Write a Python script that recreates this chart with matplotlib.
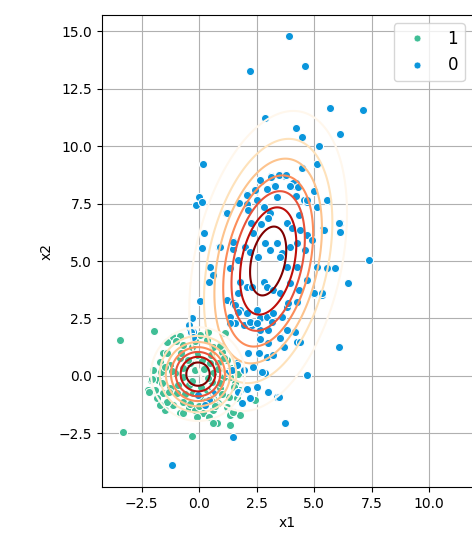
import numpy as np
import matplotlib
matplotlib.use("Agg")
import matplotlib.pyplot as plt
from matplotlib.lines import Line2D

# class 1 samples (x1, x2)
x1_c1 = [-1.96, -1.12, -0.83, -1.55, -1.38, -1.72, -1.67, -1.77, -2.10, -2.20,
         -1.55, -1.84, -1.12, -1.26, -0.97, -0.68, -0.46, -0.17, 0.19, 0.62,
         0.84, 1.20, 1.35, 1.28, 1.64, 1.78, 1.57, 1.35, 1.42, 1.20,
         0.99, 0.62, 0.33, 0.04, -0.32, -0.68, -1.26, -0.83, -1.04, -0.68,
         -0.46, 0.33, 0.55, 0.62, 0.48, 0.12, -0.39, -0.17, -0.68, 0.84,
         1.06, 0.91, 0.62, 0.04, -0.25, 2.43, 2.51, 1.35, 1.78, 0.77,
         0.41, -0.10, -0.83, -1.48, -1.41, -1.91, -1.99, -1.41, -3.43, -3.29,
         -0.32, 0.62, 1.49, 1.13, -2.17, -1.72, -2.06, 0.20, -0.30, 0.40,
         -0.50, 0.80, -0.90, 0.10, -0.10, 0.50, -0.60, 0.90, -1.20, 1.10,
         -0.80, 0.30, -0.40, 1.00, -1.30, 1.30, -0.20, 0.70, -1.50, 1.50,
         0.00, -1.00, 0.90, -1.60, 1.70, -0.70, 0.40]
x2_c1 = [1.97, 1.71, 1.74, 1.01, 0.99, 0.62, 0.19, -0.17, -0.17, -0.61,
         -0.75, -0.97, -1.26, -0.54, -0.75, -1.12, -1.41, -1.48, -1.62, -1.48,
         -1.19, -1.33, -1.70, -0.90, -0.97, -0.61, -0.32, -0.03, 0.33, 0.70,
         1.06, 1.28, 1.57, 1.78, 1.28, 1.35, 0.48, 0.77, 0.12, -0.03,
         -0.39, -0.61, -0.25, 0.12, 0.55, 0.70, 0.55, 0.26, 0.33, 0.55,
         -0.03, -0.54, -0.97, -0.97, -0.75, -1.04, -0.46, -2.13, -1.70, -2.06,
         -1.77, -1.77, -1.62, -1.48, -1.12, -0.61, 0.26, 1.49, 1.57, -2.42,
         -2.60, -2.03, -1.55, 1.88, -0.68, -1.26, -0.14, 0.30, -0.20, -0.10,
         0.70, 0.30, -0.40, -0.50, 0.90, 0.90, -0.80, -0.30, 0.20, 0.80,
         1.00, -1.10, -1.20, -0.80, -0.70, 0.20, 1.50, -1.30, 0.40, -0.50,
         -1.30, 1.50, 1.30, -0.30, 0.10, -1.60, 1.90]

# class 0 samples (x1, x2)
x1_c0 = [3.90, 2.23, 4.62, 5.67, 7.13, 2.88, 4.23, 4.49, 6.12, 5.23,
         0.17, 5.12, 4.49, 3.71, 3.12, 2.70, 4.19, 4.07, 3.27, 2.43,
         2.07, 4.97, 5.58, 0.00, -0.14, 0.12, 1.75, 2.07, 3.39, 4.57,
         4.68, 5.12, 7.36, 6.49, 5.91, 5.60, 5.33, 4.97, 6.13, 6.10,
         5.38, 1.17, 0.23, 0.12, 0.87, 1.46, 1.49, 0.48, 0.62, 0.41,
         0.04, 2.65, 3.12, 3.46, 3.78, 4.10, 4.28, 3.96, 3.30, 2.97,
         2.43, 2.07, 3.38, 2.51, 4.22, 4.68, 5.55, 1.20, 2.14, 2.80,
         3.09, 4.32, 6.06, 2.25, 2.68, 3.01, 3.81, 4.03, 4.39, 4.68,
         5.41, 6.13, 0.91, 1.49, 2.00, 2.36, 2.87, 3.09, 3.38, 3.59,
         3.96, 4.25, 4.61, 4.90, 1.35, 1.71, 2.22, 2.54, 3.52, 3.81,
         4.25, 5.12, 5.55, 5.91, 4.68, 3.96, 2.80, 2.07, 1.78, 1.20,
         1.49, 1.71, 2.29, 2.94, 3.23, 3.52, 4.32, 5.33, 4.25, 3.81,
         1.78, 2.07, 2.65, 2.94, 3.23, 2.51, -0.32, -0.39, 1.35, 1.57,
         2.29, 2.65, 3.01, 3.52, 3.81, 2.65, 3.67, 4.25, 6.06, 2.14,
         2.94, 4.68, 1.71, 2.51, 3.38, 1.93, 1.64, -1.19, 1.49, 3.74,
         3.45, 3.01, 1.86, 1.71, 2.07, 2.87, 2.36, 1.64, 3.23, 3.01,
         3.52, 4.17, 1.20, 1.42, 1.57, 1.71, 1.35, 1.93, 2.22, 2.51,
         3.16, 3.59, 3.88, 4.25, 4.97, -0.46, -0.25, -0.03, 0.41, 0.62,
         0.26, 2.22, 2.72, 2.58, -0.35, -0.28, 4.39]
x2_c0 = [14.78, 13.26, 13.49, 11.65, 11.55, 11.22, 10.77, 10.39, 10.53, 10.00,
         9.22, 9.22, 9.04, 8.71, 8.68, 8.49, 8.38, 8.27, 8.27, 8.04,
         7.90, 8.04, 7.61, 7.77, 7.43, 7.55, 7.51, 7.47, 7.77, 7.65,
         7.55, 7.36, 5.04, 4.03, 4.71, 4.71, 3.52, 3.55, 6.67, 6.27,
         6.39, 7.07, 6.23, 5.55, 5.60, 5.87, 5.51, 4.75, 4.39, 4.07,
         3.27, 8.52, 8.64, 8.72, 8.72, 8.41, 8.20, 8.26, 8.26, 8.14,
         8.09, 7.87, 7.80, 7.65, 7.84, 7.65, 7.65, 7.07, 7.22, 7.36,
         7.07, 7.00, 6.64, 6.64, 6.61, 6.86, 6.64, 6.42, 6.35, 6.13,
         6.35, 6.28, 5.62, 5.84, 5.62, 6.20, 5.77, 5.48, 5.77, 5.33,
         5.62, 5.77, 5.48, 5.91, 4.68, 5.04, 5.41, 5.19, 5.19, 4.75,
         4.75, 4.75, 4.68, 4.68, 4.17, 4.03, 4.10, 3.88, 4.10, 3.30,
         3.16, 3.59, 3.88, 3.88, 3.74, 3.59, 3.74, 3.59, 3.23, 3.01,
         2.87, 2.72, 2.51, 2.58, 2.72, 2.87, 2.51, 2.00, 2.58, 2.29,
         2.22, 2.00, 2.00, 1.71, 2.00, 1.59, 1.28, 1.49, 1.28, 0.99,
         0.84, 0.04, -0.68, -0.46, -0.90, 0.26, 0.55, -3.87, -2.64, -2.03,
         -0.93, -0.68, -1.19, -0.68, -0.58, 0.12, 0.41, 0.48, 0.91, 1.42,
         1.64, 1.93, 0.12, 0.26, 3.09, 2.80, 2.29, 2.22, 2.36, 2.29,
         2.36, 2.58, 3.16, 3.23, 3.59, 2.22, 1.93, -0.83, -1.04, -0.75,
         -1.26, -0.97, 0.19, 0.99, 1.93, 1.71, 1.49]

# fitted gaussian parameters per class
mean_c1 = [-0.05, 0.08]
cov_c1 = [[1.0, 0.0], [0.0, 1.0]]
mean_c0 = [3.0, 5.0]
sd_c0 = [1.69, 3.22]
rho_c0 = 0.32
cov_c0 = [[sd_c0[0] ** 2, rho_c0 * sd_c0[0] * sd_c0[1]],
          [rho_c0 * sd_c0[0] * sd_c0[1], sd_c0[1] ** 2]]
# contour levels as multiples of peak density / n
level_div = {1: 7.96, 0: 7.8}

col_c1 = "#40be96"
col_c0 = "#0a96dc"


def gauss_pdf(X, Y, mu, cov):
    cov = np.asarray(cov)
    inv = np.linalg.inv(cov)
    dx = X - mu[0]
    dy = Y - mu[1]
    q = inv[0, 0] * dx * dx + 2 * inv[0, 1] * dx * dy + inv[1, 1] * dy * dy
    return np.exp(-0.5 * q) / (2 * np.pi * np.sqrt(np.linalg.det(cov)))


fig = plt.figure(figsize=(4.72, 5.40), dpi=100)
ax = fig.add_axes([102 / 472, 53 / 540, 371 / 472, 472 / 540])

ax.scatter(x1_c1, x2_c1, s=34, c=col_c1, edgecolors="white", linewidths=0.75, zorder=2)
ax.scatter(x1_c0, x2_c0, s=34, c=col_c0, edgecolors="white", linewidths=0.75, zorder=2)

xx = np.linspace(-4.5, 12.5, 400)
yy = np.linspace(-5, 16, 400)
X, Y = np.meshgrid(xx, yy)
for k, mu, cov in [(0, mean_c0, cov_c0), (1, mean_c1, cov_c1)]:
    Z = gauss_pdf(X, Y, mu, cov)
    peak = 1 / (2 * np.pi * np.sqrt(np.linalg.det(np.asarray(cov))))
    levels = np.arange(1, 8) * peak / level_div[k]
    ax.contour(X, Y, Z, levels=levels, cmap="OrRd", linewidths=1.5, zorder=3)

ax.set_xlim(-4.22, 11.9)
ax.set_ylim(-4.83, 15.7)
ax.set_xticks([-2.5, 0, 2.5, 5, 7.5, 10])
ax.set_yticks([-2.5, 0, 2.5, 5, 7.5, 10, 12.5, 15])
ax.grid(True)
ax.set_axisbelow(True)
ax.set_xlabel("x1")
ax.set_ylabel("x2")

handles = [Line2D([], [], marker="o", ls="", color=col_c1, markeredgecolor="white",
                  markeredgewidth=0.5, markersize=5),
           Line2D([], [], marker="o", ls="", color=col_c0, markeredgecolor="white",
                  markeredgewidth=0.5, markersize=5)]
ax.legend(handles, ["1", "0"], loc="upper right", fontsize=12)

fig.savefig("out.png", dpi=100)
